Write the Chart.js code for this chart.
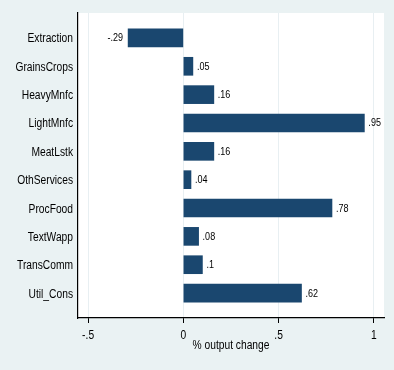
<!DOCTYPE html>
<html>
<head>
<meta charset="utf-8">
<script src="https://cdn.jsdelivr.net/npm/chart.js@4/dist/chart.umd.min.js"></script>
<style>
  html, body { margin: 0; padding: 0; background: #eaf2f3; }
  #wrap { width: 394px; height: 370px; }
</style>
</head>
<body>
<div id="wrap"><canvas id="bar-chart-output"></canvas></div>
<script>
    let sectors = ["Extraction", "GrainsCrops", "HeavyMnfc", "LightMnfc", "MeatLstk",
                   "OthServices", "ProcFood", "TextWapp", "TransComm", "Util_Cons"];
    let outputChange = [-0.29, 0.05, 0.16, 0.95, 0.16, 0.04, 0.78, 0.08, 0.1, 0.62];
    let xTickValues = [-0.5, 0, 0.5, 1];
    let xTickLabels = ["-.5", "0", ".5", "1"];
    let xTitle = "% output change";

    const FONT = "'Liberation Sans', Arial, sans-serif";
    const SQUEEZE = 0.82; // no narrow font installed, so condense by hand

    // stata style number: -.29, .05, .1
    function StataFormat(v) {
        let s = String(Math.abs(v)).replace(/^0\./, ".");
        return (v < 0 ? "-" : "") + s;
    }

    function NarrowText(ctx, text, x, y, align, size) {
        ctx.save();
        ctx.font = size + "px " + FONT;
        ctx.fillStyle = "#000";
        ctx.textAlign = align;
        ctx.textBaseline = "alphabetic";
        ctx.translate(x, y);
        ctx.scale(SQUEEZE, 1);
        ctx.fillText(text, 0, 0);
        ctx.restore();
    }

    let backdrop = {
        id: 'backdrop',
        beforeDraw(chart) {
            let ctx = chart.ctx, a = chart.chartArea;
            ctx.save();
            ctx.fillStyle = "#eaf2f3";
            ctx.fillRect(0, 0, chart.width, chart.height);
            ctx.fillStyle = "#ffffff";
            ctx.fillRect(a.left, a.top, a.right - a.left, a.bottom - a.top);
            ctx.restore();
        }
    };

    let textLayer = {
        id: 'textLayer',
        afterDraw(chart) {
            let ctx = chart.ctx, a = chart.chartArea;
            let xs = chart.scales.x, ys = chart.scales.y;
            // category labels
            sectors.forEach(function (s, i) {
                NarrowText(ctx, s, a.left - 5, ys.getPixelForValue(i) + 4.5, "right", 12.5);
            });
            // x ticks
            xTickValues.forEach(function (v, i) {
                NarrowText(ctx, xTickLabels[i], xs.getPixelForValue(v), a.bottom + 21, "center", 12.5);
            });
            NarrowText(ctx, xTitle, (a.left + a.right) / 2, a.bottom + 31, "center", 12.5);
            // value labels
            let meta = chart.getDatasetMeta(0);
            meta.data.forEach(function (bar, i) {
                let v = outputChange[i];
                if (v < 0) {
                    NarrowText(ctx, StataFormat(v), bar.x - 5, bar.y + 3.5, "right", 11);
                } else {
                    NarrowText(ctx, StataFormat(v), bar.x + 4, bar.y + 3.5, "left", 11);
                }
            });
        }
    };

    function GenerateChart() {
        new Chart(document.getElementById("bar-chart-output"), {
            type: 'bar',
            data: {
                datasets: [{
                    label: xTitle,
                    backgroundColor: "#1a476f",
                    data: sectors.map(function (s, i) { return { x: outputChange[i], y: i }; }),
                    barThickness: 18,
                }]
            },
            plugins: [backdrop, textLayer],
            options: {
                indexAxis: 'y',
                responsive: false,
                animation: false,
                layout: { padding: { top: 13, right: 10, left: 0, bottom: 0 } },
                plugins: { legend: { display: false }, tooltip: { enabled: false } },
                scales: {
                    y: {
                        type: 'linear',
                        reverse: true,
                        offset: false,
                        min: -0.88,
                        max: 9.88,
                        afterBuildTicks: function (scale) {
                            scale.ticks = sectors.map(function (s, i) { return { value: i }; });
                        },
                        afterFit: function (scale) { scale.width = 78; },
                        ticks: { display: false },
                        grid: { display: false, drawTicks: false },
                        border: { display: true, color: "#000", width: 1.2 }
                    },
                    x: {
                        type: 'linear',
                        min: -0.553,
                        max: 1.053,
                        afterBuildTicks: function (scale) {
                            scale.ticks = xTickValues.map(function (v) { return { value: v }; });
                        },
                        afterFit: function (scale) { scale.height = 52; },
                        ticks: { display: false },
                        grid: { color: "#e8eff2", tickColor: "#000", tickLength: 5, drawOnChartArea: true },
                        border: { display: true, color: "#000", width: 1.2 }
                    }
                }
            }
        });
    }

    window.onload = function () {
        let c = document.getElementById("bar-chart-output");
        c.width = 394;
        c.height = 370;
        GenerateChart();
    };
</script>
</body>
</html>
